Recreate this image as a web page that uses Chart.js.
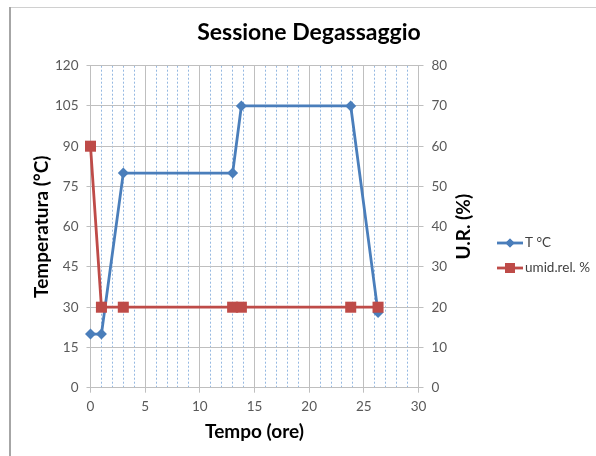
<!DOCTYPE html>
<html>
<head>
<meta charset="utf-8">
<script src="https://cdn.jsdelivr.net/npm/chart.js@4/dist/chart.umd.min.js"></script>
<style>
  html, body { margin: 0; padding: 0; background: #ffffff; }
  #wrap { width: 596px; height: 456px; position: relative; }
</style>
</head>
<body>
<div id="wrap"><canvas id="c" width="596" height="456"></canvas></div>
<script>
// ---- data ----
const chartTitle = "Sessione Degassaggio";
const xTitle = "Tempo (ore)";
const yLeftTitle = "Temperatura (°C)";
const yRightTitle = "U.R. (%)";
const seriesNames = ["T °C", "umid.rel. %"];
const hours = [0, 1, 3, 13, 13.8, 23.8, 26.3];
const tempC = [20, 20, 80, 80, 105, 105, 28];
const umidRel = [60, 20, 20, 20, 20, 20, 20];
const xTicks = [0, 5, 10, 15, 20, 25, 30];
const yLeftTicks = [0, 15, 30, 45, 60, 75, 90, 105, 120];
const yRightTicks = [0, 10, 20, 30, 40, 50, 60, 70, 80];

const BLUE = "#4A7EBB";
const RED = "#BE4B48";
const GRID = "#BFBFBF";
const MINOR = "#94B8E2";
const TICKTXT = "#595959";
const FONT = "Lato, 'Open Sans', 'DejaVu Sans', sans-serif";

const toPts = (xs, ys) => xs.map((x, i) => ({ x: x, y: ys[i] }));

const decor = {
  id: "decor",
  beforeDraw(chart) {
    const ctx = chart.ctx;
    ctx.save();
    ctx.fillStyle = "#ffffff";
    ctx.fillRect(0, 0, chart.width, chart.height);
    ctx.strokeStyle = "#D0D0D0";
    ctx.lineWidth = 1;
    ctx.beginPath();
    ctx.moveTo(10, 7.5); ctx.lineTo(chart.width, 7.5);
    ctx.stroke();
    ctx.strokeStyle = "#A6A6A6";
    ctx.lineWidth = 2;
    ctx.beginPath();
    ctx.moveTo(10, 7); ctx.lineTo(10, chart.height);
    ctx.stroke();
    ctx.restore();
  },
  afterDraw(chart) {
    const ctx = chart.ctx;
    ctx.save();
    // title
    ctx.fillStyle = "#000000";
    ctx.font = "bold 23px " + FONT;
    ctx.textAlign = "center";
    ctx.textBaseline = "middle";
    ctx.fillText(chartTitle, 309, 33);
    // right axis title, reading bottom to top
    ctx.save();
    ctx.translate(464, chart.chartArea.top + (chart.chartArea.bottom - chart.chartArea.top) / 2);
    ctx.rotate(-Math.PI / 2);
    ctx.font = "bold 19px " + FONT;
    ctx.fillText(yRightTitle, 0, 0);
    ctx.restore();
    // legend
    const items = [
      { name: seriesNames[0], color: BLUE, style: "rectRot", r: 4.5, y: 243 },
      { name: seriesNames[1], color: RED, style: "rect", r: 7, y: 268 }
    ];
    items.forEach(it => {
      ctx.strokeStyle = it.color;
      ctx.lineWidth = 2.8;
      ctx.beginPath();
      ctx.moveTo(497, it.y); ctx.lineTo(523, it.y);
      ctx.stroke();
      ctx.fillStyle = it.color;
      Chart.helpers.drawPoint(ctx, { pointStyle: it.style, radius: it.r, borderWidth: 0 }, 510, it.y);
      ctx.fill();
      ctx.fillStyle = "#404040";
      ctx.font = "13.5px " + FONT;
      ctx.textAlign = "left";
      ctx.textBaseline = "middle";
      ctx.fillText(it.name, 525, it.y);
    });
    ctx.restore();
  }
};

new Chart(document.getElementById("c"), {
  type: "scatter",
  data: {
    datasets: [
      {
        label: seriesNames[0],
        data: toPts(hours, tempC),
        yAxisID: "y",
        showLine: true,
        clip: false,
        borderColor: BLUE,
        backgroundColor: BLUE,
        borderWidth: 2.8,
        pointStyle: "rectRot",
        pointRadius: 5.5,
        pointBorderWidth: 0,
        pointBackgroundColor: BLUE,
        order: 2
      },
      {
        label: seriesNames[1],
        data: toPts(hours, umidRel),
        yAxisID: "y2",
        showLine: true,
        clip: false,
        borderColor: RED,
        backgroundColor: RED,
        borderWidth: 2.8,
        pointStyle: "rect",
        pointRadius: 7.8,
        pointBorderWidth: 0,
        pointBackgroundColor: RED,
        order: 1
      }
    ]
  },
  options: {
    responsive: false,
    animation: false,
    devicePixelRatio: 1,
    layout: { padding: { left: 0, right: 127.5, top: 65.7, bottom: 0 } },
    plugins: {
      legend: { display: false },
      title: { display: false },
      tooltip: { enabled: false }
    },
    scales: {
      xMinor: {
        type: "linear",
        position: "bottom",
        min: 0, max: 30,
        ticks: { display: false, stepSize: 1 },
        grid: {
          drawTicks: false,
          color: ctx => (ctx.tick && ctx.tick.value % 5 === 0) ? "rgba(0,0,0,0)" : MINOR,
          lineWidth: 1
        },
        border: { display: false, dash: [2, 2] },
        afterFit: s => { s.height = 0; }
      },
      x: {
        type: "linear",
        position: "bottom",
        min: 0, max: 30,
        afterBuildTicks: s => { s.ticks = xTicks.map(v => ({ value: v })); },
        ticks: { color: TICKTXT, font: { family: FONT, size: 13.5 }, padding: 6, maxRotation: 0 },
        grid: { color: GRID, tickColor: GRID, tickLength: 5, lineWidth: 1 },
        border: { color: GRID },
        title: {
          display: true, text: xTitle, color: "#000000",
          font: { family: FONT, size: 19, weight: "bold" },
          padding: { top: 0, bottom: 12.6 }
        },
        afterFit: s => { s.height = 68.3; }
      },
      y: {
        type: "linear",
        position: "left",
        min: 0, max: 120,
        afterBuildTicks: s => { s.ticks = yLeftTicks.map(v => ({ value: v })); },
        ticks: { color: TICKTXT, font: { family: FONT, size: 13.5 }, padding: 8 },
        grid: { color: GRID, tickColor: GRID, tickLength: 4, lineWidth: 1 },
        border: { color: GRID },
        title: {
          display: true, text: yLeftTitle, color: "#000000",
          font: { family: FONT, size: 19, weight: "bold" },
          padding: { top: 30.6, bottom: 0 }
        },
        afterFit: s => { s.width = 90.5; }
      },
      y2: {
        type: "linear",
        position: "right",
        min: 0, max: 80,
        afterBuildTicks: s => { s.ticks = yRightTicks.map(v => ({ value: v })); },
        ticks: { color: TICKTXT, font: { family: FONT, size: 13.5 }, padding: 8 },
        grid: { drawOnChartArea: false, color: GRID, tickColor: GRID, tickLength: 5 },
        border: { color: GRID },
        afterFit: s => { s.width = 50; }
      }
    }
  },
  plugins: [decor]
});
</script>
</body>
</html>
